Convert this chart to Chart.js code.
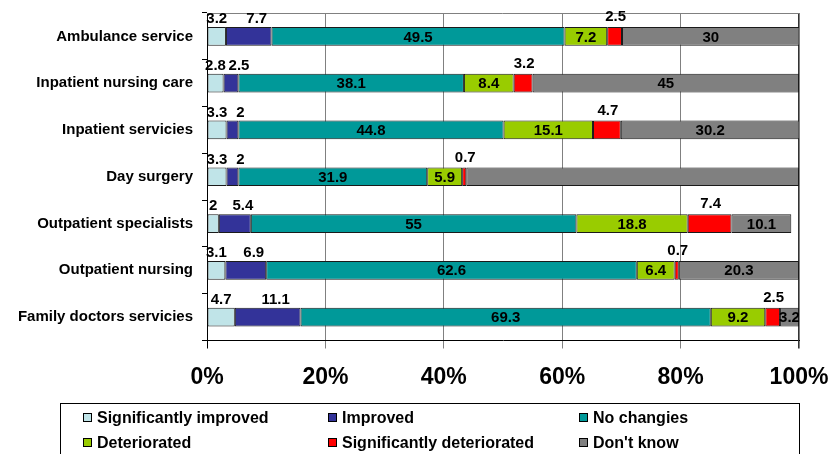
<!DOCTYPE html>
<html>
<head>
<meta charset="utf-8">
<script src="https://cdn.jsdelivr.net/npm/chart.js@4/dist/chart.umd.min.js"></script>
<style>
  html, body { margin: 0; padding: 0; background: #fff; }
  #wrap { width: 832px; height: 454px; position: relative; }
</style>
</head>
<body>
<div id="wrap"><canvas id="c" width="832" height="454"></canvas></div>
<script>
// Survey services and the share of answers (percent) in each assessment group
const services = [
  'Ambulance service',
  'Inpatient nursing care',
  'Inpatient servicies',
  'Day surgery',
  'Outpatient specialists',
  'Outpatient nursing',
  'Family doctors servicies'
];
const significantlyImproved   = [3.2, 2.8, 3.3, 3.3, 2.0, 3.1, 4.7];
const improved                = [7.7, 2.5, 2.0, 2.0, 5.4, 6.9, 11.1];
const noChanges               = [49.5, 38.1, 44.8, 31.9, 55.0, 62.6, 69.3];
const deteriorated            = [7.2, 8.4, 15.1, 5.9, 18.8, 6.4, 9.2];
const significantlyDeteriorated = [2.5, 3.2, 4.7, 0.7, 7.4, 0.7, 2.5];
const dontKnow                = [30.0, 45.0, 30.2, 56.2, 10.1, 20.3, 3.2];
// Day surgery's "Don't know" share carries no printed value
const unlabeledDontKnow = ['Day surgery'];

const xTicks = [0, 20, 40, 60, 80, 100];

const FONT = "'Liberation Sans', Arial, Helvetica, sans-serif";

const seriesDefs = [
  { label: 'Significantly improved',    data: significantlyImproved,     color: '#C0E4E8', place: 'above', dx: 0, dy: 8 },
  { label: 'Improved',                  data: improved,                  color: '#333399', place: 'above', dx: 8, dy: 8 },
  { label: 'No changies',               data: noChanges,                 color: '#009999', place: 'inside' },
  { label: 'Deteriorated',              data: deteriorated,              color: '#99CC00', place: 'inside' },
  { label: 'Significantly deteriorated',data: significantlyDeteriorated, color: '#FF0000', place: 'above', dx: 1, dy: 10 },
  { label: "Don't know",                data: dontKnow,                  color: '#808080', place: 'inside' }
];

const datasets = seriesDefs.map(s => ({
  label: s.label,
  data: s.data,
  backgroundColor: s.color,
  borderColor: '#1a1a1a',
  borderWidth: 1,
  borderSkipped: false,
  categoryPercentage: 1,
  barPercentage: 0.4,
  place: s.place,
  dx: s.dx || 0,
  dy: s.dy || 0
}));

// Numbers printed on or above each segment
const segmentLabels = {
  id: 'segmentLabels',
  afterDatasetsDraw(chart) {
    const ctx = chart.ctx;
    const area = chart.chartArea;
    ctx.save();
    ctx.beginPath();
    ctx.rect(0, 0, area.right, chart.height);
    ctx.clip();
    ctx.font = 'bold 15px ' + FONT;
    ctx.fillStyle = '#000';
    ctx.textAlign = 'center';
    ctx.textBaseline = 'middle';
    chart.data.datasets.forEach((ds, di) => {
      const meta = chart.getDatasetMeta(di);
      meta.data.forEach((bar, i) => {
        const v = ds.data[i];
        if (v == null) return;
        if (di === 5 && unlabeledDontKnow.includes(chart.data.labels[i])) return;
        const p = bar.getProps(['x', 'y', 'base', 'height'], true);
        let cx = (p.x + p.base) / 2;
        let cy = p.y + 1;
        if (ds.place === 'above') {
          cx += ds.dx;
          cy = p.y - p.height / 2 - ds.dy;
        }
        ctx.fillText(String(v), cx, cy);
      });
    });
    ctx.restore();
  }
};

// Top and right edges of the plot area
const plotFrame = {
  id: 'plotFrame',
  beforeDatasetsDraw(chart) {
    const { ctx, chartArea: a } = chart;
    const top = Math.round(a.top) + 0.5;
    const right = Math.round(a.right) - 0.5;
    ctx.save();
    ctx.lineWidth = 1;
    ctx.strokeStyle = '#808080';
    ctx.beginPath();
    ctx.moveTo(a.left, top);
    ctx.lineTo(right, top);
    ctx.stroke();
    ctx.strokeStyle = '#333';
    ctx.beginPath();
    ctx.moveTo(right, top);
    ctx.lineTo(right, a.bottom + 8);
    ctx.stroke();
    ctx.restore();
  }
};

// Boxed legend in three columns under the axis
const boxLegend = {
  id: 'boxLegend',
  afterDraw(chart) {
    const ctx = chart.ctx;
    ctx.save();
    ctx.strokeStyle = '#000';
    ctx.lineWidth = 1;
    ctx.strokeRect(60.5, 403.5, 739, 60);
    const cols = [83, 328, 579];
    const rows = [418, 443];
    ctx.font = 'bold 16px ' + FONT;
    ctx.textAlign = 'left';
    ctx.textBaseline = 'middle';
    chart.data.datasets.forEach((ds, i) => {
      const x = cols[i % 3];
      const y = rows[Math.floor(i / 3)];
      ctx.fillStyle = ds.backgroundColor;
      ctx.fillRect(x, y - 5, 9, 9);
      ctx.strokeStyle = '#000';
      ctx.strokeRect(x + 0.5, y - 4.5, 8, 8);
      ctx.fillStyle = '#000';
      ctx.fillText(ds.label, x + 14, y + 1);
    });
    ctx.restore();
  }
};

new Chart(document.getElementById('c'), {
  type: 'bar',
  data: { labels: services, datasets },
  options: {
    indexAxis: 'y',
    responsive: false,
    animation: false,
    devicePixelRatio: 1,
    layout: { padding: { top: 13, right: 33, left: 0, bottom: 0 } },
    plugins: {
      legend: { display: false },
      tooltip: { enabled: false }
    },
    scales: {
      x: {
        type: 'linear',
        stacked: true,
        min: 0,
        max: 100,
        afterBuildTicks(scale) { scale.ticks = xTicks.map(v => ({ value: v })); },
        afterFit(scale) {
          scale.height = 113.5;
          scale.paddingLeft = 0;
          scale.paddingRight = 0;
        },
        ticks: {
          callback: v => v + '%',
          font: { family: FONT, size: 23, weight: 'bold' },
          color: '#000',
          padding: 15,
          maxRotation: 0
        },
        grid: {
          color: '#808080',
          lineWidth: 1,
          tickLength: 8,
          tickColor: c => (c.tick && c.tick.value === 0) ? '#000' : '#808080'
        },
        border: { color: '#000', width: 1 }
      },
      y: {
        type: 'category',
        stacked: true,
        offset: true,
        afterFit(scale) {
          scale.width = 207;
          scale.paddingTop = 0;
          scale.paddingBottom = 0;
        },
        ticks: {
          font: { family: FONT, size: 15, weight: 'bold' },
          color: '#000',
          padding: 9
        },
        grid: {
          offset: true,
          drawOnChartArea: false,
          tickLength: 5,
          color: '#000'
        },
        border: { color: '#000', width: 1 }
      }
    }
  },
  plugins: [plotFrame, segmentLabels, boxLegend]
});
</script>
</body>
</html>
